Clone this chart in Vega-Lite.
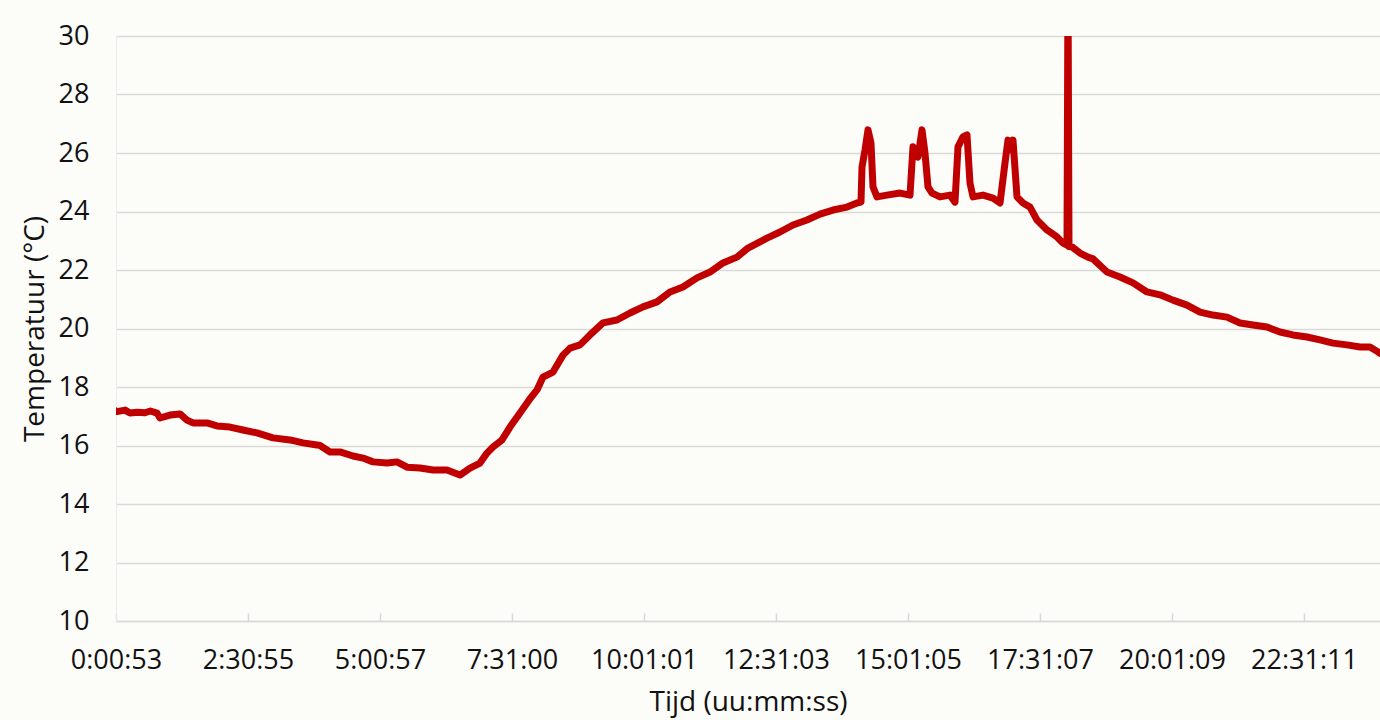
{
  "$schema": "https://vega.github.io/schema/vega-lite/v6.json",
  "width": 1264,
  "height": 585,
  "autosize": "none",
  "padding": {"left": 116, "top": 36, "right": 0, "bottom": 99},
  "background": "#fcfcf9",
  "config": {
    "view": {"stroke": null},
    "font": "Open Sans"
  },
  "data": {
    "values": [
      {"t": 53, "temp": 17.18},
      {"t": 121, "temp": 17.16},
      {"t": 667, "temp": 17.21},
      {"t": 1008, "temp": 17.11},
      {"t": 1500, "temp": 17.14},
      {"t": 2031, "temp": 17.12},
      {"t": 2400, "temp": 17.18},
      {"t": 2849, "temp": 17.11},
      {"t": 3054, "temp": 16.94},
      {"t": 3736, "temp": 17.04},
      {"t": 4418, "temp": 17.08},
      {"t": 4895, "temp": 16.87},
      {"t": 5304, "temp": 16.77},
      {"t": 6259, "temp": 16.77},
      {"t": 6941, "temp": 16.67},
      {"t": 7828, "temp": 16.63},
      {"t": 8714, "temp": 16.53},
      {"t": 9669, "temp": 16.43},
      {"t": 10760, "temp": 16.26},
      {"t": 11920, "temp": 16.19},
      {"t": 12806, "temp": 16.09},
      {"t": 13761, "temp": 16.02},
      {"t": 13966, "temp": 16.0},
      {"t": 14648, "temp": 15.78},
      {"t": 15330, "temp": 15.78},
      {"t": 16216, "temp": 15.64},
      {"t": 16898, "temp": 15.57},
      {"t": 17580, "temp": 15.44},
      {"t": 18535, "temp": 15.4},
      {"t": 19217, "temp": 15.44},
      {"t": 19899, "temp": 15.26},
      {"t": 20786, "temp": 15.23},
      {"t": 21672, "temp": 15.16},
      {"t": 22627, "temp": 15.16},
      {"t": 23514, "temp": 14.99},
      {"t": 24196, "temp": 15.23},
      {"t": 24878, "temp": 15.4},
      {"t": 25355, "temp": 15.74},
      {"t": 25764, "temp": 15.95},
      {"t": 26378, "temp": 16.19},
      {"t": 26924, "temp": 16.63},
      {"t": 27606, "temp": 17.11},
      {"t": 28288, "temp": 17.6},
      {"t": 28765, "temp": 17.9},
      {"t": 29174, "temp": 18.34},
      {"t": 29856, "temp": 18.51},
      {"t": 30538, "temp": 19.09},
      {"t": 31016, "temp": 19.33},
      {"t": 31698, "temp": 19.44},
      {"t": 32380, "temp": 19.78},
      {"t": 33266, "temp": 20.19},
      {"t": 34221, "temp": 20.29},
      {"t": 35108, "temp": 20.53},
      {"t": 35994, "temp": 20.74},
      {"t": 36949, "temp": 20.91},
      {"t": 37836, "temp": 21.25},
      {"t": 38722, "temp": 21.42},
      {"t": 39677, "temp": 21.73},
      {"t": 40564, "temp": 21.93},
      {"t": 41450, "temp": 22.24},
      {"t": 42405, "temp": 22.44},
      {"t": 43155, "temp": 22.75},
      {"t": 44451, "temp": 23.09},
      {"t": 45338, "temp": 23.3},
      {"t": 46224, "temp": 23.54},
      {"t": 47179, "temp": 23.71},
      {"t": 48066, "temp": 23.91},
      {"t": 48952, "temp": 24.05},
      {"t": 49907, "temp": 24.15},
      {"t": 50589, "temp": 24.29},
      {"t": 50862, "temp": 24.32},
      {"t": 50930, "temp": 25.52},
      {"t": 51135, "temp": 26.1},
      {"t": 51339, "temp": 26.79},
      {"t": 51544, "temp": 26.34},
      {"t": 51680, "temp": 24.84},
      {"t": 51953, "temp": 24.5},
      {"t": 52635, "temp": 24.56},
      {"t": 53522, "temp": 24.63},
      {"t": 54204, "temp": 24.56},
      {"t": 54408, "temp": 26.21},
      {"t": 54749, "temp": 25.86},
      {"t": 55022, "temp": 26.79},
      {"t": 55227, "temp": 26.0},
      {"t": 55431, "temp": 24.84},
      {"t": 55704, "temp": 24.63},
      {"t": 56250, "temp": 24.5},
      {"t": 56932, "temp": 24.56},
      {"t": 57273, "temp": 24.32},
      {"t": 57477, "temp": 26.21},
      {"t": 57818, "temp": 26.55},
      {"t": 58091, "temp": 26.62},
      {"t": 58296, "temp": 24.97},
      {"t": 58500, "temp": 24.5},
      {"t": 59182, "temp": 24.56},
      {"t": 59864, "temp": 24.46},
      {"t": 60342, "temp": 24.29},
      {"t": 60683, "temp": 25.66},
      {"t": 60887, "temp": 26.44},
      {"t": 61160, "temp": 26.1},
      {"t": 61228, "temp": 26.44},
      {"t": 61501, "temp": 24.5},
      {"t": 61910, "temp": 24.29},
      {"t": 62388, "temp": 24.15},
      {"t": 62865, "temp": 23.71},
      {"t": 63547, "temp": 23.37},
      {"t": 64229, "temp": 23.13},
      {"t": 64638, "temp": 22.92},
      {"t": 64911, "temp": 22.85},
      {"t": 64979, "temp": 32},
      {"t": 65048, "temp": 22.8},
      {"t": 65252, "temp": 22.79},
      {"t": 65798, "temp": 22.58},
      {"t": 66343, "temp": 22.44},
      {"t": 66684, "temp": 22.38},
      {"t": 67639, "temp": 21.93},
      {"t": 68526, "temp": 21.76},
      {"t": 69412, "temp": 21.56},
      {"t": 70367, "temp": 21.25},
      {"t": 71254, "temp": 21.15},
      {"t": 72140, "temp": 20.97},
      {"t": 73095, "temp": 20.8},
      {"t": 73982, "temp": 20.56},
      {"t": 74868, "temp": 20.46},
      {"t": 75823, "temp": 20.39},
      {"t": 76710, "temp": 20.19},
      {"t": 77596, "temp": 20.12},
      {"t": 78551, "temp": 20.05},
      {"t": 79438, "temp": 19.88},
      {"t": 80324, "temp": 19.78},
      {"t": 81279, "temp": 19.71},
      {"t": 82166, "temp": 19.61},
      {"t": 83052, "temp": 19.5},
      {"t": 84007, "temp": 19.44},
      {"t": 84894, "temp": 19.37},
      {"t": 85576, "temp": 19.37},
      {"t": 86121, "temp": 19.2},
      {"t": 86258, "temp": 19.15}
    ]
  },
  "mark": {"type": "line", "color": "#c00000", "strokeWidth": 7, "strokeCap": "round", "strokeJoin": "round", "clip": true},
  "encoding": {
    "x": {
      "field": "t",
      "type": "quantitative",
      "scale": {"domain": [53, 86258], "nice": false, "zero": false},
      "axis": {
        "title": "Tijd (uu:mm:ss)",
        "values": [53, 9055, 18057, 27060, 36061, 45063, 54065, 63067, 72069, 81071],
        "labelExpr": "utcFormat(datum.value * 1000, '%-H:%M:%S')",
        "labelFlush": false,
        "labelOverlap": false,
        "grid": false,
        "domainColor": "#d9d9d9",
        "domainWidth": 1.5,
        "tickColor": "#d9d9d9",
        "tickWidth": 1.5,
        "tickSize": -8,
        "labelFontSize": 27,
        "labelColor": "#111111",
        "labelPadding": 34,
        "titleFontSize": 28,
        "titleFontWeight": "normal",
        "titleColor": "#111111",
        "titlePadding": 15
      }
    },
    "y": {
      "field": "temp",
      "type": "quantitative",
      "scale": {"domain": [10, 30], "nice": false, "zero": false},
      "axis": {
        "title": "Temperatuur (°C)",
        "values": [10, 12, 14, 16, 18, 20, 22, 24, 26, 28, 30],
        "grid": true,
        "gridColor": "#d9d9d9",
        "gridWidth": 1.5,
        "domainColor": "#ececec",
        "domainWidth": 1,
        "ticks": false,
        "labelFontSize": 27,
        "labelColor": "#111111",
        "labelPadding": 27,
        "titleFontSize": 28,
        "titleFontWeight": "normal",
        "titleColor": "#111111",
        "titlePadding": 9
      }
    }
  }
}
